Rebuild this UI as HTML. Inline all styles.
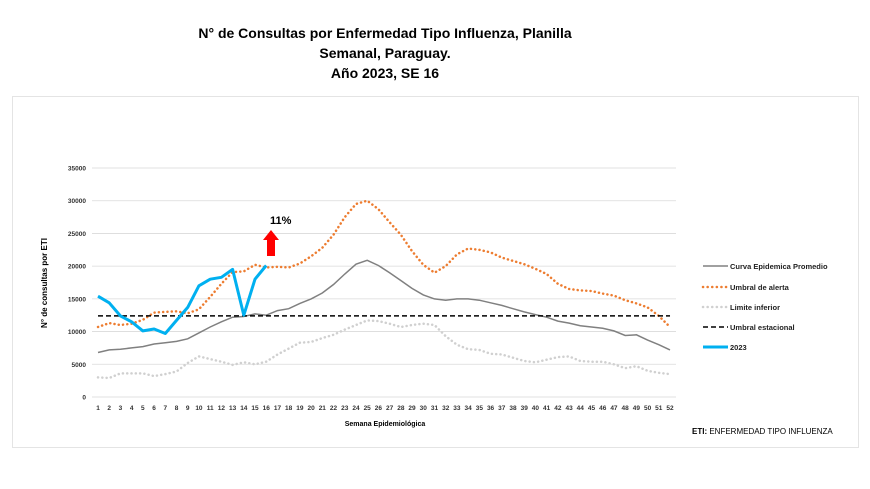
<!DOCTYPE html>
<html><head><meta charset="utf-8"><style>
body{margin:0;background:#fff;width:870px;height:484px;overflow:hidden;font-family:"Liberation Sans",sans-serif}
</style></head><body>
<svg width="870" height="484" xmlns="http://www.w3.org/2000/svg" font-family="Liberation Sans, sans-serif">
<rect x="12.5" y="96.5" width="846" height="351" fill="#fff" stroke="#e4e4e4"/>
<g font-weight="bold" font-size="14" text-anchor="middle" fill="#000">
<text x="385" y="38">N° de Consultas por Enfermedad Tipo Influenza, Planilla</text>
<text x="385" y="58">Semanal, Paraguay.</text>
<text x="385" y="78">Año 2023, SE 16</text>
</g>
<g id="chart"></g>
<text x="270" y="224" font-weight="bold" font-size="11">11%</text>
<polygon points="271,230 279,240 275,240 275,256 267,256 267,240 263,240" fill="#f00"/>
<text x="47" y="283" transform="rotate(-90 47 283)" text-anchor="middle" font-size="8" font-weight="bold">N° de consultas por ETI</text>
<text x="385" y="426" text-anchor="middle" font-size="7" font-weight="bold">Semana Epidemiológica</text>
<g font-size="7.5" font-weight="bold" fill="#222">
<line x1="703" y1="266" x2="728" y2="266" stroke="#808080" stroke-width="1.5"/><text x="730" y="269">Curva Epidemica Promedio</text>
<line x1="703" y1="287" x2="728" y2="287" stroke="#ed7d31" stroke-width="2.5" stroke-dasharray="0.1 4.5" stroke-linecap="round"/><text x="730" y="290">Umbral de alerta</text>
<line x1="703" y1="307" x2="728" y2="307" stroke="#d0d0d0" stroke-width="2.5" stroke-dasharray="0.1 4.5" stroke-linecap="round"/><text x="730" y="310">Limite inferior</text>
<line x1="703" y1="327" x2="728" y2="327" stroke="#000" stroke-width="1.5" stroke-dasharray="5 3"/><text x="730" y="330">Umbral estacional</text>
<line x1="703" y1="347" x2="728" y2="347" stroke="#00b0f0" stroke-width="3"/><text x="730" y="350">2023</text>
</g>
<text x="692" y="434" font-size="8"><tspan font-weight="bold">ETI:</tspan> ENFERMEDAD TIPO INFLUENZA</text>
</svg>
<script>
const g=document.getElementById('chart');const ns="http://www.w3.org/2000/svg";
const X=w=>98+(w-1)*11.216, Y=v=>397-v*229/35000;
let h='';
for(let v=0;v<=35000;v+=5000){const y=Y(v);h+=`<line x1="92" x2="676" y1="${y}" y2="${y}" stroke="#d9d9d9" stroke-width="0.8"/><text x="86" y="${y+2.5}" font-size="6.5" text-anchor="end" font-weight="bold" fill="#333">${v}</text>`;}
for(let w=1;w<=52;w++)h+=`<text x="${X(w)}" y="410" font-size="6.5" text-anchor="middle" font-weight="bold" fill="#333">${w}</text>`;
const avg=[6800,7200,7300,7500,7700,8100,8300,8500,8900,9800,10700,11500,12200,12300,12700,12500,13200,13500,14300,15000,15900,17200,18800,20300,20900,20100,19000,17800,16600,15600,15000,14800,15000,15000,14800,14400,14000,13500,13000,12600,12200,11600,11300,10900,10700,10500,10100,9400,9500,8700,8000,7200];
const al=[10700,11300,11000,11200,11800,12900,13000,13100,12800,13400,15300,17300,19100,19200,20200,19800,19900,19800,20400,21500,22800,24800,27500,29500,30000,28700,26700,24800,22300,20200,19000,20000,21800,22700,22500,22100,21300,20800,20300,19600,18800,17300,16500,16300,16200,15800,15500,14800,14300,13700,12400,10700];
const lo=[3000,2900,3600,3600,3600,3200,3500,3900,5200,6200,5800,5400,4900,5300,5000,5400,6500,7400,8300,8400,9000,9500,10300,11000,11700,11600,11200,10700,11000,11200,11000,9300,8000,7300,7200,6600,6500,6000,5500,5300,5700,6100,6200,5500,5400,5400,5000,4400,4700,4000,3700,3500];
const y23=[15400,14400,12400,11500,10100,10400,9700,11700,13700,17000,18000,18300,19500,12500,18000,20100];
const pts=a=>a.map((v,i)=>X(i+1).toFixed(1)+','+Y(v).toFixed(1)).join(' ');
h+=`<polyline points="${pts(lo)}" fill="none" stroke="#d0d0d0" stroke-width="2.5" stroke-dasharray="0.1 4.2" stroke-linecap="round"/>`;
h+=`<polyline points="${pts(avg)}" fill="none" stroke="#808080" stroke-width="1.5"/>`;
h+=`<polyline points="${pts(al)}" fill="none" stroke="#ed7d31" stroke-width="2.5" stroke-dasharray="0.1 4.2" stroke-linecap="round"/>`;
h+=`<line x1="${X(1)}" x2="${X(52)}" y1="${Y(12400)}" y2="${Y(12400)}" stroke="#000" stroke-width="1.5" stroke-dasharray="5 3"/>`;
h+=`<polyline points="${pts(y23)}" fill="none" stroke="#00b0f0" stroke-width="3" stroke-linejoin="round"/>`;
g.innerHTML=h;
</script>
</body></html>
